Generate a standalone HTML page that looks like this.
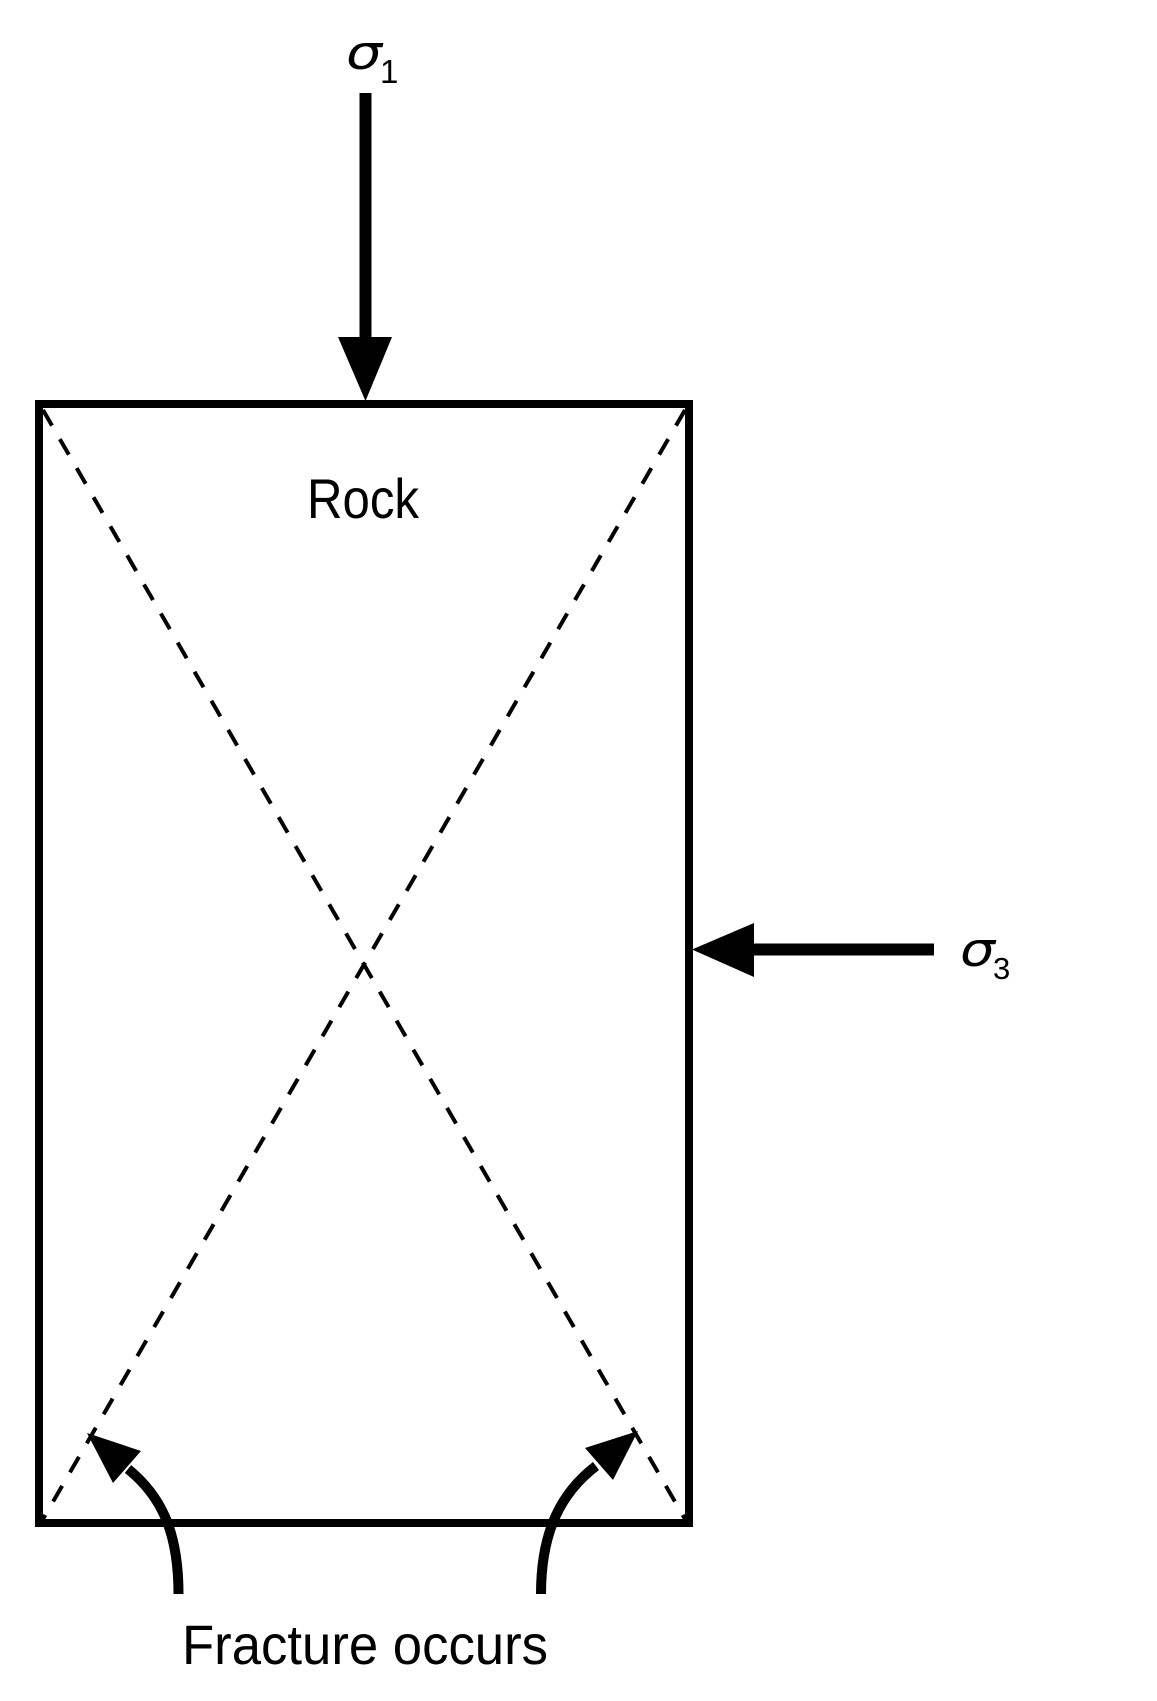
<!DOCTYPE html>
<html>
<head>
<meta charset="utf-8">
<style>
  html, body { margin: 0; padding: 0; background: #ffffff; }
  svg { display: block; }
</style>
</head>
<body>
<svg width="1157" height="1701" viewBox="0 0 1157 1701" xmlns="http://www.w3.org/2000/svg">
  <rect x="0" y="0" width="1157" height="1701" fill="#ffffff"/>

  <!-- Dashed diagonals -->
  <line x1="43" y1="410" x2="685" y2="1519" stroke="#000" stroke-width="4" stroke-dasharray="18 15.6"/>
  <line x1="685" y1="410" x2="43" y2="1519" stroke="#000" stroke-width="4" stroke-dasharray="18 15.6"/>

  <!-- Rock rectangle -->
  <rect x="39" y="404" width="650" height="1119" fill="none" stroke="#000" stroke-width="8"/>

  <!-- Sigma 1 arrow (down) -->
  <rect x="359.5" y="93" width="12" height="246" fill="#000"/>
  <polygon points="338,337 392,337 365.5,401" fill="#000"/>

  <!-- Sigma 3 arrow (left) -->
  <rect x="752" y="943.5" width="182" height="12" fill="#000"/>
  <polygon points="754,923 754,977 692,949.5" fill="#000"/>

  <!-- Curved arrows -->
  <path d="M178.5,1594 C178.5,1530 160,1495 128,1469" fill="none" stroke="#000" stroke-width="10"/>
  <polygon points="87,1433 141,1451 113,1483" fill="#000"/>
  <path d="M541,1594 C541,1530 562,1492 596,1466" fill="none" stroke="#000" stroke-width="10"/>
  <polygon points="638,1431 585,1448 613,1480" fill="#000"/>

  <!-- Labels -->
  <text x="307" y="518" font-family="'Liberation Sans', 'DejaVu Sans', sans-serif" font-size="56" textLength="112" lengthAdjust="spacingAndGlyphs" fill="#000">Rock</text>
  <text x="182" y="1664" font-family="'Liberation Sans', 'DejaVu Sans', sans-serif" font-size="56" textLength="366" lengthAdjust="spacingAndGlyphs" fill="#000">Fracture occurs</text>

  <!-- sigma 1 -->
  <text x="346" y="69" font-family="'DejaVu Sans', sans-serif" font-style="oblique" font-size="47" textLength="36" lengthAdjust="spacingAndGlyphs" fill="#000">σ</text>
  <text x="380" y="83" font-family="'Liberation Sans', 'DejaVu Sans', sans-serif" font-size="33" fill="#000">1</text>

  <!-- sigma 3 -->
  <text x="960" y="966" font-family="'DejaVu Sans', sans-serif" font-style="oblique" font-size="47" textLength="35" lengthAdjust="spacingAndGlyphs" fill="#000">σ</text>
  <text x="993" y="979" font-family="'Liberation Sans', 'DejaVu Sans', sans-serif" font-size="31" fill="#000">3</text>
</svg>
</body>
</html>
